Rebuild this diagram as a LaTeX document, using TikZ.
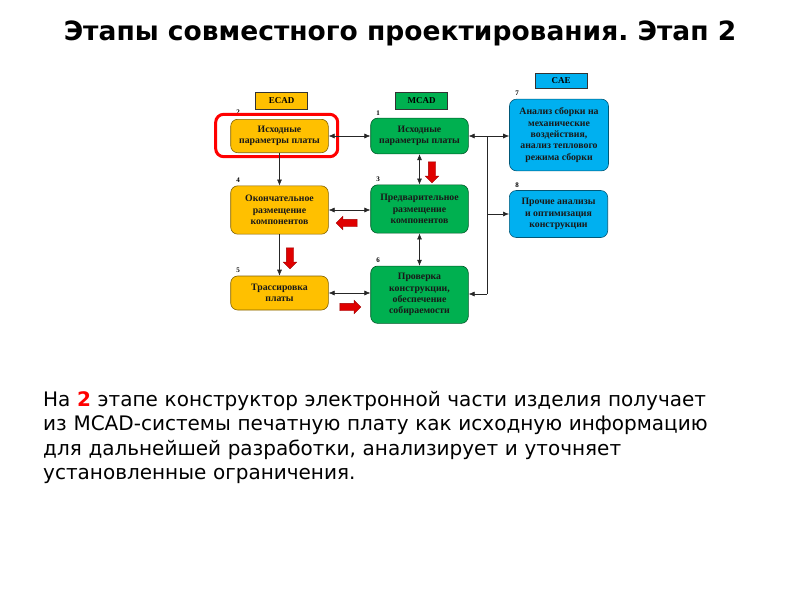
\documentclass[tikz,border=0pt]{standalone}
\usepackage{fontspec}
\setmainfont{DejaVu Sans}
\newfontfamily\boxfont{Liberation Serif}
\usetikzlibrary{arrows.meta,shapes.arrows}
\definecolor{ecad}{HTML}{FFC000}
\definecolor{mcad}{HTML}{00B050}
\definecolor{cae}{HTML}{00B0F0}
\definecolor{redarr}{HTML}{E00000}
\frenchspacing
\tikzset{
  stage/.style={rounded corners=7pt, minimum width=97.6pt, align=center, inner sep=1pt,
    font=\boxfont\bfseries\fontsize{9.8}{11.3}\selectfont, text=black!90},
  ec/.style={stage, fill=ecad, draw=ecad!50!black, line width=0.6pt},
  mc/.style={stage, fill=mcad, draw=mcad!50!black, line width=0.6pt},
  ca/.style={stage, fill=cae, draw=cae!50!black, line width=0.6pt},
  tag/.style={draw=black!80, line width=0.8pt, minimum width=52pt, minimum height=17pt, inner sep=0pt,
    font=\boxfont\bfseries\fontsize{9}{10}\selectfont},
  num/.style={font=\boxfont\bfseries\fontsize{7}{8}\selectfont, inner sep=0pt},
  conn/.style={line width=0.6pt, draw=black!85},
  tip/.style={-{Latex[length=6pt,width=5pt]}},
  dtip/.style={{Latex[length=6pt,width=5pt]}-{Latex[length=6pt,width=5pt]}},
  redarrow/.style={single arrow, fill=redarr, draw=redarr!70!black, line width=0.4pt,
    minimum height=21pt, minimum width=13pt, inner xsep=0pt, inner ysep=3.5pt,
    single arrow head extend=3pt, single arrow tip angle=90},
}
\begin{document}
\begin{tikzpicture}[x=1pt,y=-1pt]
\useasboundingbox[fill=white] (0,0) rectangle (800,600);
\node[font=\bfseries\fontsize{26.5}{30}\selectfont] (title) at (400,33) {Этапы совместного проектирования. Этап 2};

\node[tag, fill=ecad] (tecad) at (281.5,100.5) {ECAD};
\node[tag, fill=mcad] (tmcad) at (421.5,100.5) {MCAD};
\node[tag, fill=cae, minimum height=15pt] (tcae) at (561,81) {CAE};

\node[ec, minimum height=33.4pt] (b2) at (279.5,136) {Исходные\\параметры платы};
\node[mc, minimum height=35.7pt] (b1) at (419.5,136) {Исходные\\параметры платы};
\node[ca, minimum width=99pt, minimum height=71.7pt] (b7) at (559,135) {Анализ сборки на\\механические\\воздействия,\\анализ теплового\\режима сборки};
\node[ec, minimum height=48.3pt] (b4) at (279.5,210) {Окончательное\\размещение\\компонентов};
\node[mc, minimum height=48.3pt] (b3) at (419.5,209) {Предварительное\\размещение\\компонентов};
\node[ca, minimum width=98.4pt, minimum height=47pt] (b8) at (558.5,214) {Прочие анализы\\и оптимизация\\конструкции};
\node[ec, minimum height=34pt] (b5) at (279.5,293) {Трассировка\\платы};
\node[mc, minimum height=57.3pt] (b6) at (419.5,294.7) {Проверка\\конструкции,\\обеспечение\\собираемости};

\node[num] (n2) at (238,112) {2};
\node[num] (n1) at (378,113) {1};
\node[num] (n7) at (517,93) {7};
\node[num] (n4) at (238,180) {4};
\node[num] (n3) at (378,179) {3};
\node[num] (n8) at (517,185) {8};
\node[num] (n5) at (238,270) {5};
\node[num] (n6) at (378,260) {6};

\draw[red, line width=3pt, rounded corners=8pt] (215.7,114.3) rectangle (337.7,156.7);

\draw[conn, dtip] (b2.east) -- (b1.west);
\draw[conn, dtip] (b4.east) -- (b3.west |- b4.east);
\draw[conn, dtip] (b5.east) -- (b6.west |- b5.east);
\draw[conn, tip] (b2.south) -- (b4.north);
\draw[conn, tip] (b4.south) -- (b5.north);
\draw[conn, dtip] (b1.south) -- (b3.north);
\draw[conn, dtip] (b3.south) -- (b6.north);

\coordinate (bt) at (487,136);
\coordinate (bm) at (487,214);
\coordinate (bb) at (487,294);
\draw[conn, tip] (bt) -- (b1.east);
\draw[conn, tip] (bt) -- (b7.west |- bt);
\draw[conn] (bt) -- (bb);
\draw[conn, tip] (bb) -- (b6.east |- bb);
\draw[conn, tip] (bm) -- (b8.west);

\node[redarrow, rotate=-90] (r1) at (432,170.5) {};
\node[redarrow, rotate=-90] (r2) at (290,256.5) {};
\node[redarrow, rotate=180] (r3) at (348.5,223) {};
\node[redarrow] (r4) at (348.5,307) {};

\node[anchor=north west, align=left, text width=740pt, font=\fontsize{20}{24.3}\selectfont, inner sep=0pt] (body) at (43,391)
{На {\bfseries\color{red}2} этапе конструктор электронной части изделия получает\\
из MCAD-системы печатную плату как исходную информацию\\
для дальнейшей разработки, анализирует и уточняет\\
установленные ограничения.};
\end{tikzpicture}
\end{document}
